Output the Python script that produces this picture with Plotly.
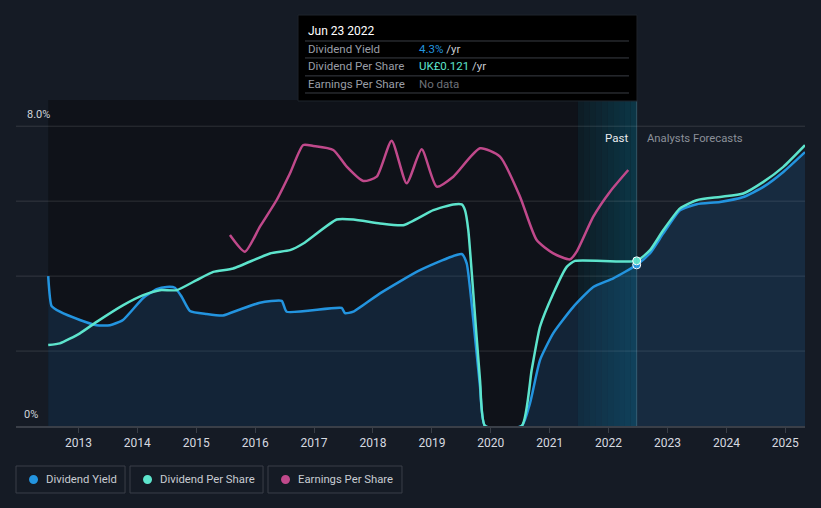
import plotly.graph_objects as go

# ---------------- data ----------------
dy_x = [2012.487, 2012.545, 2012.686, 2013.025, 2013.309, 2013.535, 2013.756, 2014.095, 2014.328,
        2014.497, 2014.638, 2014.752, 2014.893, 2015.177, 2015.453, 2015.742, 2016.081, 2016.450,
        2016.535, 2017.469, 2017.525, 2017.666, 2018.119, 2018.798, 2019.506, 2019.591, 2019.703,
        2019.817, 2019.902, 2020.525, 2020.666, 2020.835, 2021.061, 2021.401, 2021.740, 2022.080,
        2022.477]
dy_y = [4.00, 3.20, 3.05, 2.83, 2.69, 2.69, 2.83, 3.41, 3.65,
        3.71, 3.69, 3.45, 3.07, 2.99, 2.95, 3.11, 3.29, 3.34,
        3.05, 3.15, 3.01, 3.05, 3.54, 4.16, 4.59, 4.34, 2.83,
        1.05, 0.0, 0.0, 0.61, 1.76, 2.48, 3.18, 3.71, 3.94,
        4.30]
dy_fx = [2022.477, 2022.703, 2022.929, 2023.212, 2023.496, 2023.891, 2024.287, 2024.627, 2024.966, 2025.334]
dy_fy = [4.30, 4.61, 5.14, 5.76, 5.92, 5.98, 6.11, 6.38, 6.78, 7.31]

dps_x = [2012.487, 2012.686, 2013.025, 2013.309, 2013.761, 2014.100, 2014.384, 2014.667, 2015.007,
         2015.289, 2015.628, 2016.251, 2016.591, 2016.817, 2017.384, 2017.666, 2018.119, 2018.514,
         2019.024, 2019.363, 2019.506, 2019.562, 2019.618, 2019.703, 2019.817, 2019.902, 2020.525,
         2020.694, 2020.835, 2021.061, 2021.289, 2021.430, 2022.477]
dps_y = [0.0593, 0.0605, 0.0679, 0.0763, 0.0886, 0.0959, 0.0995, 0.0995, 0.1069,
         0.1129, 0.1154, 0.1264, 0.1288, 0.1337, 0.1513, 0.1513, 0.1484, 0.1471,
         0.1581, 0.1623, 0.1623, 0.1581, 0.1435, 0.0974, 0.0337, 0.0, 0.0,
         0.0410, 0.0727, 0.0971, 0.1166, 0.1210, 0.121]
dps_fx = [2022.477, 2022.703, 2022.929, 2023.212, 2023.496, 2023.891, 2024.287, 2024.627, 2024.966, 2025.334]
dps_fy = [0.121, 0.1288, 0.1435, 0.1594, 0.1654, 0.1678, 0.1703, 0.1788, 0.1898, 0.2057]

eps_x = [2015.572, 2015.827, 2016.081, 2016.365, 2016.591, 2016.817, 2016.986, 2017.326, 2017.554,
         2017.835, 2018.063, 2018.317, 2018.572, 2018.827, 2019.082, 2019.363, 2019.817, 2020.156,
         2020.496, 2020.779, 2021.061, 2021.345, 2021.458, 2021.740, 2022.024, 2022.334]
eps_y = [0.1146, 0.1046, 0.1196, 0.1356, 0.1516, 0.1686, 0.1680, 0.1656, 0.1556,
         0.1470, 0.1496, 0.1712, 0.1456, 0.1660, 0.1436, 0.1496, 0.1666, 0.1616,
         0.1376, 0.1116, 0.1036, 0.1000, 0.1046, 0.1256, 0.1406, 0.1536]

year_ticks = list(range(2013, 2026))
year_labels = [str(y) for y in year_ticks]

past_start = 2012.487
highlight_start = 2021.48
today = 2022.477

BLUE = "#2394df"
TEAL = "#5de4cc"
PINK = "#c0498b"
BG = "#151b25"

fig = go.Figure()

fig.add_trace(go.Scatter(x=dy_x + dy_fx[1:], y=dy_y + dy_fy[1:], mode="lines",
                         line=dict(color=BLUE, width=2.5, shape="spline", smoothing=0.5),
                         fill="tozeroy", fillcolor="rgba(33,110,175,0.20)",
                         showlegend=False, hoverinfo="skip"))
fig.add_trace(go.Scatter(x=dps_x + dps_fx[1:], y=dps_y + dps_fy[1:], mode="lines", yaxis="y2",
                         line=dict(color=TEAL, width=2.5, shape="spline", smoothing=0.5),
                         showlegend=False, hoverinfo="skip"))
fig.add_trace(go.Scatter(x=eps_x, y=eps_y, mode="lines", yaxis="y3",
                         line=dict(color=PINK, width=2.5, shape="spline", smoothing=0.6),
                         showlegend=False, hoverinfo="skip"))
fig.add_trace(go.Scatter(x=[today], y=[dy_y[-1]], mode="markers",
                         marker=dict(color=BLUE, size=8, line=dict(color="white", width=1)),
                         showlegend=False, hoverinfo="skip"))
fig.add_trace(go.Scatter(x=[today], y=[dps_y[-1]], mode="markers", yaxis="y2",
                         marker=dict(color=TEAL, size=8, line=dict(color="white", width=1)),
                         showlegend=False, hoverinfo="skip"))

shapes = [
    dict(type="rect", xref="x", yref="paper", x0=past_start, x1=highlight_start, y0=0, y1=1,
         fillcolor="#0f1219", line=dict(width=0), layer="below"),
]
# gradient highlight of the last year of the past
n_strips = 10
c0 = (13, 29, 38)
c1 = (12, 54, 70)
for i in range(n_strips):
    t = i / (n_strips - 1)
    col = "rgb({},{},{})".format(*[round(a + (b - a) * t) for a, b in zip(c0, c1)])
    xa = highlight_start + (today - highlight_start) * i / n_strips
    xb = highlight_start + (today - highlight_start) * (i + 1) / n_strips
    shapes.append(dict(type="rect", xref="x", yref="paper", x0=xa, x1=xb, y0=0, y1=1,
                       fillcolor=col, line=dict(width=0), layer="below"))
shapes.append(dict(type="line", xref="x", yref="paper", x0=today, x1=today, y0=0, y1=1,
                   line=dict(color="rgba(120,170,190,0.35)", width=1)))
for gv in [2, 4, 6, 8]:
    shapes.append(dict(type="line", xref="paper", yref="y", x0=0, x1=1, y0=gv, y1=gv,
                       line=dict(color="rgba(255,255,255,0.13)", width=1), layer="below"))

annotations = [
    dict(text="8.0%", xref="paper", yref="paper", x=0.0114, y=0.957, xanchor="left", yanchor="middle",
         showarrow=False, font=dict(color="#d0d4da", size=11)),
    dict(text="0%", xref="paper", yref="paper", x=0.0076, y=0.0368, xanchor="left", yanchor="middle",
         showarrow=False, font=dict(color="#d0d4da", size=11)),
    dict(text="Past", xref="x", yref="paper", x=2022.36, y=0.883, xanchor="right", yanchor="middle",
         showarrow=False, font=dict(color="#e8eaee", size=11.5)),
    dict(text="Analysts Forecasts", xref="x", yref="paper", x=2022.62, y=0.883, xanchor="left",
         yanchor="middle", showarrow=False, font=dict(color="#8b9099", size=11.3)),
]

# tooltip box
shapes.append(dict(type="rect", xref="paper", yref="paper", x0=0.3574, x1=0.7871, y0=0.9969, y1=1.2607,
                   fillcolor="#000000", line=dict(color="#1f242c", width=1)))
for sy in [1.181, 1.129, 1.074, 1.0215]:
    shapes.append(dict(type="line", xref="paper", yref="paper", x0=0.3663, x1=0.7769, y0=sy, y1=sy,
                       line=dict(color="#3a3e45", width=1)))
annotations.append(dict(text="Jun 23 2022", xref="paper", yref="paper", x=0.3676, y=1.2117,
                        xanchor="left", yanchor="middle", showarrow=False,
                        font=dict(color="#ffffff", size=12)))
rows = [("Dividend Yield", f"<span style='color:{BLUE}'>4.3%</span> /yr", 1.1564),
        ("Dividend Per Share", f"<span style='color:{TEAL}'>UK£0.121</span> /yr", 1.1043),
        ("Earnings Per Share", "<span style='color:#6d7178'>No data</span>", 1.0491)]
for lab, val, ry in rows:
    annotations.append(dict(text=lab, xref="paper", yref="paper", x=0.3676, y=ry, xanchor="left",
                            yanchor="middle", showarrow=False, font=dict(color="#9a9ea6", size=11.5)))
    annotations.append(dict(text=val, xref="paper", yref="paper", x=0.5083, y=ry, xanchor="left",
                            yanchor="middle", showarrow=False, font=dict(color="#c8ccd2", size=11.5)))

# custom legend
legend_items = [("Dividend Yield", BLUE, 0.0, 0.1382),
                ("Dividend Per Share", TEAL, 0.1445, 0.3131),
                ("Earnings Per Share", PINK, 0.3194, 0.4892)]
for name, col, lx0, lx1 in legend_items:
    shapes.append(dict(type="rect", xref="paper", yref="paper", x0=lx0, x1=lx1, y0=-0.2055, y1=-0.1227,
                       line=dict(color="#3a3f48", width=1), fillcolor="rgba(0,0,0,0)"))
    shapes.append(dict(type="circle", xref="paper", yref="paper",
                       x0=lx0 + 0.0165, x1=lx0 + 0.0165 + 0.0114, y0=-0.1641 - 0.0138, y1=-0.1641 + 0.0138,
                       fillcolor=col, line=dict(width=0)))
    annotations.append(dict(text=name, xref="paper", yref="paper", x=lx0 + 0.0355, y=-0.1641,
                            xanchor="left", yanchor="middle", showarrow=False,
                            font=dict(color="#c8ccd2", size=11.3)))

fig.update_layout(
    width=821, height=508,
    margin=dict(l=16, r=16, t=100, b=82),
    paper_bgcolor=BG, plot_bgcolor=BG,
    font=dict(family="Roboto, sans-serif"),
    xaxis=dict(range=[2011.94, 2025.334], tickvals=year_ticks, ticktext=year_labels,
               showgrid=False, zeroline=False, showline=True, linecolor="#3a3f48", linewidth=1.5,
               ticks="outside", ticklen=5, tickcolor="#3a3f48",
               tickfont=dict(color="#d7dae0", size=12)),
    yaxis=dict(range=[0, 8.7], showgrid=False, zeroline=False, showticklabels=False),
    yaxis2=dict(range=[0, 0.2388], overlaying="y", visible=False),
    yaxis3=dict(range=[0, 0.1956], overlaying="y", visible=False),
    shapes=shapes, annotations=annotations,
    showlegend=False,
)

fig.write_html("out.html")
